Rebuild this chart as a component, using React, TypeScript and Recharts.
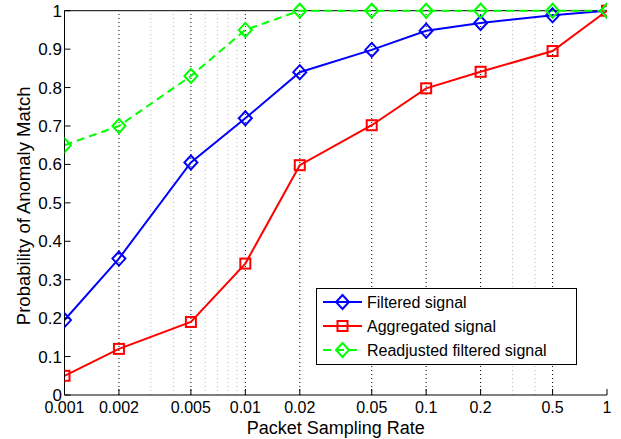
import { LineChart, Line, XAxis, YAxis, ReferenceLine, Legend, Label } from 'recharts';

const rates = [0.001, 0.002, 0.005, 0.01, 0.02, 0.05, 0.1, 0.2, 0.5, 1];
const filtered = [0.195, 0.355, 0.605, 0.72, 0.84, 0.898, 0.948, 0.968, 0.988, 1];
const aggregated = [0.05, 0.12, 0.19, 0.342, 0.598, 0.702, 0.798, 0.841, 0.895, 1];
const readjusted = [0.65, 0.7, 0.83, 0.95, 1, 1, 1, 1, 1, 1];

const yTicks = [0, 0.1, 0.2, 0.3, 0.4, 0.5, 0.6, 0.7, 0.8, 0.9, 1];
const majorGrid = [0.002, 0.005, 0.01, 0.02, 0.05, 0.1, 0.2, 0.5];
const minorGrid = [0.003, 0.004, 0.006, 0.007, 0.008, 0.009, 0.3, 0.4];

const data = rates.map((rate, i) => ({
  rate,
  filtered: filtered[i],
  aggregated: aggregated[i],
  readjusted: readjusted[i],
}));

const font = '"Liberation Sans", Arial, Helvetica, sans-serif';

// plot box, in page pixels
const TOP = 10.7;
const BOTTOM = 395;
const LEFT = 64.5;
const RIGHT = 607;

const series = [
  { key: 'filtered', name: 'Filtered signal', color: '#0000ff', shape: 'diamond', dash: undefined },
  { key: 'aggregated', name: 'Aggregated signal', color: '#ff0000', shape: 'square', dash: undefined },
  { key: 'readjusted', name: 'Readjusted filtered signal', color: '#00ff00', shape: 'diamond', dash: '8 5' },
];

const marker = (shape: string, cx: number, cy: number, color: string, key?: any) => {
  if (shape === 'square') {
    return <rect key={key} x={cx - 5} y={cy - 5} width={10} height={10} fill="none" stroke={color} strokeWidth={2} />;
  }
  return (
    <path
      key={key}
      d={`M${cx},${cy - 7} L${cx + 6.5},${cy} L${cx},${cy + 7} L${cx - 6.5},${cy} Z`}
      fill="none"
      stroke={color}
      strokeWidth={2}
    />
  );
};

const renderLegend = () => (
  <div style={{ width: 261, height: 77, border: '1px solid #000', background: '#fff', boxSizing: 'border-box' }}>
    <svg width={259} height={75} style={{ display: 'block' }}>
      {series.map((s, i) => {
        const cy = 13 + i * 24;
        return (
          <g key={s.key}>
            <line x1={6} x2={45} y1={cy} y2={cy} stroke={s.color} strokeWidth={2} strokeDasharray={s.dash} />
            {marker(s.shape, 25.5, cy, s.color)}
            <text x={50} y={cy + 6} fontSize={16} fontFamily={font} fill="#000">
              {s.name}
            </text>
          </g>
        );
      })}
    </svg>
  </div>
);

const emptyTick = () => <g />;

const xTitle = () => {
  const x = (LEFT + RIGHT) / 2;
  const y = 433.5;
  return (
    <text x={x} y={y} textAnchor="middle" fontSize={18} fontFamily={font} fill="#000">
      Packet Sampling Rate
    </text>
  );
};

const yTitle = () => {
  const x = 30;
  const y = (TOP + BOTTOM) / 2 + 3;
  return (
    <text x={x} y={y} transform={`rotate(-90, ${x}, ${y})`} textAnchor="middle" fontSize={18.5} fontFamily={font} fill="#000">
      Probability of Anomaly Match
    </text>
  );
};

export default function App() {
  return (
    <div style={{ position: 'fixed', left: 0, top: 0, width: 621, height: 439, fontFamily: font, background: '#fff' }}>
      <LineChart
        width={621}
        height={439}
        data={data}
        margin={{ top: TOP, right: 621 - RIGHT, left: 0, bottom: 0 }}
        style={{ display: 'block' }}
      >
        {minorGrid.map((v) => (
          <ReferenceLine key={'m' + v} x={v} stroke="#b8b8b8" strokeDasharray="1 3" />
        ))}
        {majorGrid.map((v) => (
          <ReferenceLine key={'M' + v} x={v} stroke="#000" strokeDasharray="1 3" />
        ))}
        <ReferenceLine y={1} stroke="#000" />
        <XAxis
          dataKey="rate"
          type="number"
          scale="log"
          domain={[0.001, 1]}
          ticks={rates}
          allowDataOverflow
          height={439 - BOTTOM}
          tickSize={-6}
          tickMargin={13}
          axisLine={{ stroke: '#000' }}
          tickLine={{ stroke: '#000' }}
          tick={{ fill: '#000', fontSize: 16, fontFamily: font }}
        >
          <Label content={xTitle} />
        </XAxis>
        <YAxis
          type="number"
          domain={[0, 1]}
          ticks={yTicks}
          width={LEFT}
          tickSize={-6}
          tickMargin={8.5}
          axisLine={{ stroke: '#000' }}
          tickLine={{ stroke: '#000' }}
          tick={{ fill: '#000', fontSize: 17, fontFamily: font }}
        >
          <Label content={yTitle} />
        </YAxis>
        <YAxis
          yAxisId="right"
          orientation="right"
          type="number"
          domain={[0, 1]}
          ticks={yTicks}
          width={0}
          tickSize={-6}
          axisLine={{ stroke: '#000' }}
          tickLine={{ stroke: '#000' }}
          tick={emptyTick}
        />
        <Legend
          layout="vertical"
          align="center"
          verticalAlign="middle"
          content={renderLegend}
          wrapperStyle={{ left: 315.5, top: 288, width: 261, height: 77 }}
        />
        {series.map((s) => (
          <Line
            key={s.key}
            dataKey={s.key}
            name={s.name}
            stroke={s.color}
            strokeWidth={2}
            strokeDasharray={s.dash}
            type="linear"
            isAnimationActive={false}
            dot={(p: any) => marker(s.shape, p.cx, p.cy, s.color, p.key ?? `${s.key}-${p.index}`)}
            activeDot={false}
          />
        ))}
      </LineChart>
    </div>
  );
}
